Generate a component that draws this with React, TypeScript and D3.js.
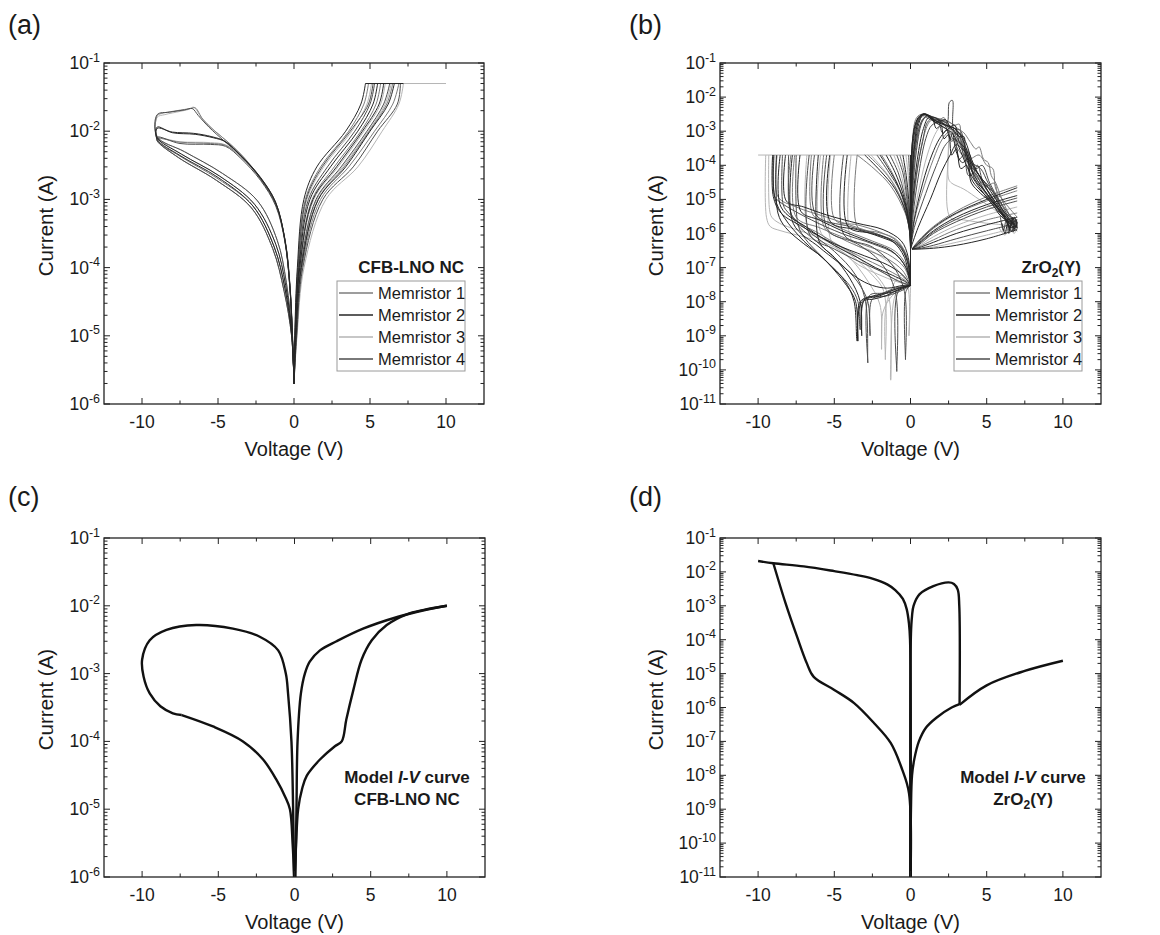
import React, { useEffect, useRef } from 'react';
import * as d3 from 'd3';

type Pt = [number, number];

const FONT = '"Liberation Sans", Arial, Helvetica, sans-serif';
const memColors = ['#7c7c7c', '#262626', '#b5b5b5', '#4d4d4d'];
const memLabels = ['Memristor 1', 'Memristor 2', 'Memristor 3', 'Memristor 4'];
const xTicks = [-10, -5, 0, 5, 10];
const xMinor = [-7.5, -2.5, 2.5, 7.5];
const yExpShort = [-1, -2, -3, -4, -5, -6];
const yExpLong = [-1, -2, -3, -4, -5, -6, -7, -8, -9, -10, -11];

// ---------- (a) CFB-LNO NC, measured ----------
const posA1: Pt[][] = [
  [[0, 2e-6], [0.06, 1e-5], [0.25, 1e-4], [0.75, 1e-3], [1.75, 3e-3], [3.6, 1e-2], [4.6, 2.5e-2], [4.9, 5e-2]],
  [[0, 2e-6], [0.1, 1e-5], [0.36, 1e-4], [1.2, 1e-3], [2.65, 3e-3], [4.4, 1e-2], [5.4, 2.5e-2], [5.7, 5e-2]],
  [[0, 2e-6], [0.16, 1e-5], [0.53, 1e-4], [1.75, 1e-3], [3.6, 3e-3], [5.3, 1e-2], [6.5, 2.5e-2], [6.9, 5e-2]],
  [[0, 2e-6], [0.15, 1e-5], [0.5, 1e-4], [1.6, 1e-3], [3.3, 3e-3], [4.95, 1e-2], [6.1, 2.5e-2], [6.5, 5e-2]],
];
const posA2: Pt[][] = [
  [[0, 2e-6], [0.05, 1e-5], [0.22, 1e-4], [0.65, 1e-3], [1.5, 3e-3], [3.4, 1e-2], [4.4, 2.5e-2], [4.7, 5e-2]],
  [[0, 2e-6], [0.09, 1e-5], [0.33, 1e-4], [1.05, 1e-3], [2.4, 3e-3], [4.2, 1e-2], [5.2, 2.5e-2], [5.5, 5e-2]],
  [[0, 2e-6], [0.14, 1e-5], [0.48, 1e-4], [1.6, 1e-3], [3.4, 3e-3], [5.0, 1e-2], [6.2, 2.5e-2], [6.6, 5e-2]],
  [[0, 2e-6], [0.1, 1e-5], [0.38, 1e-4], [1.25, 1e-3], [2.8, 3e-3], [4.5, 1e-2], [5.6, 2.5e-2], [5.9, 5e-2]],
];
const posA3: Pt[][] = [
  [[0, 2e-6], [0.07, 1e-5], [0.28, 1e-4], [0.85, 1e-3], [1.95, 3e-3], [3.8, 1e-2], [4.8, 2.5e-2], [5.1, 5e-2]],
  [[0, 2e-6], [0.11, 1e-5], [0.4, 1e-4], [1.3, 1e-3], [2.9, 3e-3], [4.6, 1e-2], [5.7, 2.5e-2], [6.0, 5e-2]],
  [[0, 2e-6], [0.2, 1e-5], [0.66, 1e-4], [2.1, 1e-3], [4.2, 3e-3], [5.8, 1e-2], [6.9, 2.5e-2], [7.2, 5e-2]],
  [[0, 2e-6], [0.13, 1e-5], [0.46, 1e-4], [1.5, 1e-3], [3.2, 3e-3], [4.9, 1e-2], [6.0, 2.5e-2], [6.4, 5e-2]],
];
const posA4: Pt[][] = [
  [[0, 2e-6], [0.08, 1e-5], [0.3, 1e-4], [0.95, 1e-3], [2.2, 3e-3], [4.0, 1e-2], [5.0, 2.5e-2], [5.3, 5e-2]],
  [[0, 2e-6], [0.12, 1e-5], [0.44, 1e-4], [1.45, 1e-3], [3.1, 3e-3], [4.8, 1e-2], [5.9, 2.5e-2], [6.3, 5e-2]],
  [[0, 2e-6], [0.18, 1e-5], [0.58, 1e-4], [1.9, 1e-3], [3.9, 3e-3], [5.5, 1e-2], [6.8, 2.5e-2], [7.0, 5e-2]],
  [[0, 2e-6], [0.07, 1e-5], [0.27, 1e-4], [0.8, 1e-3], [1.85, 3e-3], [3.7, 1e-2], [4.9, 2.5e-2], [5.2, 5e-2]],
];
const complianceA: Pt[][] = [[[4.7, 5e-2], [10, 5e-2]]];
const complianceA2: Pt[][] = [[[4.7, 5e-2], [7.2, 5e-2]]];

const negA1: Pt[][] = [
  [[0, 2e-6], [-0.15, 1e-5], [-0.6, 5e-5], [-1.3, 2e-4], [-2.7, 8e-4], [-5, 2e-3], [-7.5, 4.3e-3], [-9, 7.5e-3], [-9, 1.7e-2], [-8.8, 1.8e-2], [-7.7, 2e-2], [-6.8, 2.15e-2], [-6.5, 2.2e-2], [-6, 1.5e-2], [-5.2, 1e-2], [-4.2, 6.5e-3], [-3.2, 3.9e-3], [-2.1, 1.9e-3], [-1.15, 8e-4], [-0.55, 2.3e-4], [-0.25, 5e-5], [-0.06, 6e-6], [0, 2e-6]],
  [[0, 2e-6], [-0.16, 1e-5], [-0.65, 4.5e-5], [-1.4, 1.9e-4], [-2.8, 7.5e-4], [-5.1, 1.9e-3], [-7.6, 4.1e-3], [-9, 7.2e-3], [-9, 7.8e-3], [-7.5, 6.9e-3], [-5.5, 6.6e-3], [-4.5, 6.2e-3], [-3.5, 4.2e-3], [-2.2, 2e-3], [-1.2, 8.5e-4], [-0.6, 2.5e-4], [-0.28, 5.5e-5], [-0.07, 6e-6], [0, 2e-6]],
];
const negA2: Pt[][] = [
  [[0, 2e-6], [-0.13, 1e-5], [-0.55, 5.5e-5], [-1.2, 2.2e-4], [-2.6, 8.5e-4], [-4.9, 2.2e-3], [-7.4, 4.6e-3], [-9, 8e-3], [-9, 1.15e-2], [-8, 9.5e-3], [-6.5, 9e-3], [-5.3, 8e-3], [-4.5, 7e-3], [-3.5, 4.4e-3], [-2.2, 2.1e-3], [-1.2, 9e-4], [-0.6, 2.6e-4], [-0.27, 5.5e-5], [-0.07, 6e-6], [0, 2e-6]],
  [[0, 2e-6], [-0.15, 1e-5], [-0.6, 5e-5], [-1.3, 2e-4], [-2.7, 8e-4], [-5, 2.1e-3], [-7.5, 4.4e-3], [-9, 7.6e-3], [-9, 1.1e-2], [-8, 9.7e-3], [-6.6, 9.3e-3], [-5.4, 8.3e-3], [-4.6, 7.2e-3], [-3.6, 4.6e-3], [-2.3, 2.2e-3], [-1.25, 9.5e-4], [-0.62, 2.7e-4], [-0.28, 5.5e-5], [-0.07, 6e-6], [0, 2e-6]],
];
const negA3: Pt[][] = [
  [[0, 2e-6], [-0.12, 1e-5], [-0.5, 6e-5], [-1.1, 2.5e-4], [-2.4, 9.5e-4], [-4.7, 2.4e-3], [-7.2, 5e-3], [-9, 8.3e-3], [-9, 1.6e-2], [-8.5, 1.75e-2], [-7.5, 1.95e-2], [-6.9, 2.1e-2], [-6.6, 2.25e-2], [-6.1, 1.6e-2], [-5.3, 1.05e-2], [-4.3, 6.8e-3], [-3.3, 4.1e-3], [-2.2, 2e-3], [-1.2, 8.5e-4], [-0.58, 2.4e-4], [-0.26, 5e-5], [-0.06, 6e-6], [0, 2e-6]],
  [[0, 2e-6], [-0.13, 1e-5], [-0.55, 5.5e-5], [-1.2, 2.2e-4], [-2.6, 8.5e-4], [-4.9, 2.2e-3], [-7.4, 4.6e-3], [-9, 8e-3], [-7.5, 7e-3], [-5.5, 6.8e-3], [-4.5, 6.3e-3], [-3.5, 4.3e-3], [-2.2, 2e-3], [-1.2, 8.5e-4], [-0.6, 2.5e-4], [-0.27, 5e-5], [-0.07, 6e-6], [0, 2e-6]],
];
const negA4: Pt[][] = [
  [[0, 2e-6], [-0.16, 1e-5], [-0.65, 4.5e-5], [-1.4, 1.9e-4], [-2.8, 7.5e-4], [-5.1, 1.9e-3], [-7.6, 4.1e-3], [-9, 7.2e-3], [-9, 8.2e-3], [-7.5, 6.6e-3], [-5.5, 6.4e-3], [-4.5, 6e-3], [-3.5, 4e-3], [-2.2, 1.9e-3], [-1.2, 8e-4], [-0.6, 2.4e-4], [-0.27, 5e-5], [-0.07, 6e-6], [0, 2e-6]],
  [[0, 2e-6], [-0.12, 1e-5], [-0.5, 6e-5], [-1.1, 2.5e-4], [-2.4, 9.5e-4], [-4.7, 2.4e-3], [-7.2, 5e-3], [-9, 8.3e-3], [-9, 1.75e-2], [-8.2, 1.9e-2], [-7.2, 2.05e-2], [-6.7, 2.15e-2], [-6.3, 1.7e-2], [-5.6, 1.15e-2], [-4.6, 7.2e-3], [-3.4, 4.2e-3], [-2.2, 2e-3], [-1.2, 8.5e-4], [-0.58, 2.4e-4], [-0.26, 5e-5], [-0.06, 6e-6], [0, 2e-6]],
];

// ---------- (b) ZrO2(Y), measured ----------
const complianceB: Pt[][] = [[[-10, 2e-4], [0, 2e-4]], [[0, 2e-4], [0, 3e-8]]];

// negative sweeps 0 V -> set voltage, then jump to compliance
const negB1: Pt[][] = [
  [[0, 3e-8], [-0.2, 1.5e-7], [-0.8, 5e-7], [-2, 9e-7], [-3.5, 1.5e-6], [-5.5, 3e-6], [-7.5, 6e-6], [-8.7, 1.2e-5], [-8.75, 2e-4]],
  [[0, 3e-8], [-0.4, 1e-7], [-1.5, 2.5e-7], [-3, 4.5e-7], [-4.5, 8e-7], [-6, 1.5e-6], [-7.5, 3e-6], [-7.6, 2e-4]],
  [[0, 3e-8], [-0.3, 1.2e-7], [-1, 3e-7], [-2.5, 6e-7], [-4, 1.1e-6], [-5.5, 2.2e-6], [-6.4, 3.5e-6], [-6.5, 2e-4]],
  [[0, 3e-8], [-0.5, 8e-8], [-1.5, 1.8e-7], [-3, 3.5e-7], [-4.5, 7e-7], [-5.65, 1.5e-6], [-5.7, 2e-4]],
  [[0, 3e-8], [-0.25, 2e-7], [-0.9, 6e-7], [-2, 1.1e-6], [-3.5, 1.8e-6], [-4.95, 2.5e-6], [-5, 2e-4]],
  [[0, 3e-8], [-0.3, 2.5e-7], [-1, 7e-7], [-2.2, 1.1e-6], [-3.45, 1.5e-6], [-3.5, 2e-4]],
  [[0, 3e-8], [-0.6, 5e-8], [-1.8, 1e-7], [-3.2, 2e-7], [-4.5, 4e-7], [-6, 1e-6], [-7.8, 3.5e-6], [-7.85, 2e-4]],
];
const negB2: Pt[][] = [
  [[0, 3e-8], [-0.8, 2.5e-8], [-2, 1.5e-8], [-3.2, 1e-8], [-3.5, 7e-10], [-3.7, 1e-8], [-4.3, 4e-8], [-5.5, 1.5e-7], [-7, 6e-7], [-8.3, 3e-6], [-8.9, 1.1e-5], [-9, 2e-4]],
  [[0, 3e-8], [-0.15, 2e-7], [-0.6, 6e-7], [-1.8, 1.3e-6], [-3.5, 2e-6], [-5.5, 3.5e-6], [-7, 6e-6], [-8.15, 9e-6], [-8.2, 2e-4]],
  [[0, 3e-8], [-0.3, 1e-7], [-1.2, 3e-7], [-2.8, 6e-7], [-4.5, 1.2e-6], [-6, 2.5e-6], [-7.2, 4.5e-6], [-7.25, 2e-4]],
  [[0, 3e-8], [-0.6, 2.5e-8], [-1.6, 1.5e-8], [-2.4, 1.2e-8], [-3.1, 1e-8], [-3.2, 1e-9], [-3.3, 1e-8], [-4, 5e-8], [-5, 2e-7], [-6, 6e-7], [-6.05, 2e-4]],
  [[0, 3e-8], [-0.2, 1.5e-7], [-0.8, 4.5e-7], [-2, 8e-7], [-3.5, 1.3e-6], [-5.25, 2.2e-6], [-5.3, 2e-4]],
  [[0, 3e-8], [-0.4, 2e-7], [-1.2, 6e-7], [-2.5, 1e-6], [-4.1, 1.6e-6], [-4.15, 2e-4]],
  [[0, 3e-8], [-1, 2e-8], [-2.4, 1.5e-8], [-3.3, 1e-8], [-3.45, 7e-10], [-3.6, 1e-8], [-4.2, 3e-8], [-5.8, 2e-7], [-7, 5e-7], [-8.2, 1.5e-6], [-8.7, 4e-6], [-8.8, 2e-4]],
  [[0, 3e-8], [-0.5, 6e-8], [-1.5, 1.2e-7], [-3, 2.2e-7], [-5, 5e-7], [-7, 1.5e-6], [-8.5, 4e-6], [-9, 1.2e-5], [-9.05, 2e-4]],
  [[0, 3e-8], [-0.4, 4e-8], [-1.2, 6e-8], [-2.3, 1e-7], [-3.5, 2e-7], [-5, 4.5e-7], [-6.8, 1.5e-6], [-8.5, 6e-6], [-8.55, 2e-4]],
  [[0, 3e-8], [-0.5, 3e-8], [-1.5, 2.5e-8], [-2.5, 3e-8], [-3.5, 5e-8], [-4.8, 1.5e-7], [-6, 4e-7], [-7.7, 2e-6], [-7.75, 2e-4]],
];
const negB3: Pt[][] = [
  [[0, 3e-8], [-1, 4e-8], [-2, 6e-8], [-3.4, 1.2e-7], [-5, 4e-7], [-7, 8e-7], [-8.5, 1.2e-6], [-9.2, 1.6e-6], [-9.45, 3e-6], [-9.5, 2e-4]],
  [[0, 3e-8], [-1.2, 5e-8], [-2.2, 9e-8], [-3.5, 2e-7], [-5, 5e-7], [-7, 1.1e-6], [-8.6, 2e-6], [-9.1, 3e-6], [-9.25, 5e-6], [-9.3, 2e-4]],
  [[0, 3e-8], [-0.6, 6e-8], [-1.55, 1e-8], [-1.65, 2e-10], [-1.75, 2e-8], [-2.5, 6e-8], [-4, 2.5e-7], [-6, 8e-7], [-6.75, 1.5e-6], [-6.8, 2e-4]],
  [[0, 3e-8], [-0.9, 2e-8], [-1.3, 5e-11], [-1.45, 1.5e-8], [-2.5, 8e-8], [-4, 3e-7], [-5.85, 1e-6], [-5.9, 2e-4]],
  [[0, 3e-8], [-0.1, 1e-9], [-0.2, 3e-8], [-1, 1e-7], [-2.5, 3e-7], [-3.85, 6e-7], [-3.9, 2e-4]],
  [[0, 3e-8], [-0.5, 2.5e-8], [-1.2, 1.5e-8], [-1.8, 5e-9], [-1.9, 4e-10], [-2.0, 8e-9], [-2.8, 4e-8], [-4, 2e-7], [-5.2, 6e-7], [-5.25, 2e-4]],
];
const negB4: Pt[][] = [
  [[0, 3e-8], [-0.7, 2.5e-8], [-1.8, 1.8e-8], [-2.7, 1.5e-8], [-2.8, 1.6e-10], [-2.95, 1e-8], [-3.6, 6e-8], [-5, 3e-7], [-6.5, 1e-6], [-8, 4e-6], [-8.35, 7e-6], [-8.4, 2e-4]],
  [[0, 3e-8], [-1, 2.5e-8], [-2.2, 1.5e-8], [-3, 1.2e-8], [-3.3, 1.5e-9], [-3.45, 1e-8], [-4, 3e-8], [-5.5, 1.5e-7], [-7, 8e-7], [-7.4, 2e-6], [-7.5, 2e-4]],
  [[0, 3e-8], [-0.2, 1.8e-7], [-0.8, 5e-7], [-2, 9e-7], [-4, 1.6e-6], [-6.2, 3.5e-6], [-6.3, 2e-4]],
  [[0, 3e-8], [-0.8, 2e-8], [-0.9, 9e-11], [-1.0, 2e-8], [-2, 1.5e-7], [-3.5, 5e-7], [-5.45, 1.3e-6], [-5.5, 2e-4]],
  [[0, 3e-8], [-0.3, 2e-8], [-0.33, 2e-10], [-0.4, 2e-8], [-1.2, 1.2e-7], [-2.5, 4e-7], [-4.35, 9e-7], [-4.4, 2e-4]],
  [[0, 3e-8], [-0.5, 2.2e-8], [-1.5, 1.5e-8], [-2.5, 1.2e-8], [-2.65, 1e-9], [-2.8, 1e-8], [-3.5, 4e-8], [-4.5, 1.2e-7], [-6, 5e-7], [-7.5, 2e-6], [-7.9, 5e-6], [-8, 2e-4]],
  [[0, 3e-8], [-0.3, 1e-7], [-1, 2.5e-7], [-2.5, 5e-7], [-4.5, 1e-6], [-6.5, 2.5e-6], [-8.5, 8e-6], [-8.9, 1.2e-5], [-8.95, 2e-4]],
  [[0, 3e-8], [-0.8, 4e-8], [-2, 8e-8], [-3.5, 1.6e-7], [-5, 3.5e-7], [-6.6, 9e-7], [-6.65, 2e-4]],
];

// return sweeps from compliance back to 0 V
const fanB1: Pt[][] = [
  [[-3.5, 2e-4], [-2.4, 8e-5], [-1.3, 2.5e-5], [-0.35, 4e-6], [0, 1e-6]],
  [[-1.9, 2e-4], [-1.2, 6e-5], [-0.6, 1.5e-5], [-0.15, 3e-6], [0, 5e-7]],
  [[-0.7, 2e-4], [-0.4, 6e-5], [-0.18, 1e-5], [-0.05, 2e-6], [0, 3.5e-7]],
  [[-2.8, 2e-4], [-1.5, 5e-5], [-0.6, 1e-5], [-0.1, 1.5e-6], [0, 6e-7]],
];
const fanB2: Pt[][] = [
  [[-3.0, 2e-4], [-2, 7e-5], [-1, 2e-5], [-0.3, 4e-6], [0, 8e-7]],
  [[-1.6, 2e-4], [-1, 6e-5], [-0.5, 1.5e-5], [-0.12, 2.5e-6], [0, 5e-7]],
  [[-0.5, 2e-4], [-0.28, 5e-5], [-0.12, 1e-5], [-0.03, 2e-6], [0, 3.5e-7]],
  [[-2.0, 2e-4], [-0.9, 3e-5], [-0.3, 6e-6], [0, 8e-7]],
];
const fanB3: Pt[][] = [
  [[-2.6, 2e-4], [-1.7, 7e-5], [-0.9, 2e-5], [-0.25, 3.5e-6], [0, 7e-7]],
  [[-1.1, 2e-4], [-0.65, 6e-5], [-0.3, 1.2e-5], [-0.08, 2e-6], [0, 4e-7]],
  [[-0.3, 2e-4], [-0.15, 5e-5], [-0.06, 8e-6], [0, 3.5e-7]],
];
const fanB4: Pt[][] = [
  [[-2.2, 2e-4], [-1.4, 6e-5], [-0.7, 1.8e-5], [-0.2, 3e-6], [0, 6e-7]],
  [[-1.35, 2e-4], [-0.8, 6e-5], [-0.4, 1.4e-5], [-0.1, 2.5e-6], [0, 4e-7]],
  [[-0.9, 2e-4], [-0.5, 6e-5], [-0.25, 1.2e-5], [-0.06, 2e-6], [0, 4e-7]],
  [[-0.12, 2e-4], [-0.06, 4e-5], [-0.02, 5e-6], [0, 3.5e-7]],
];

// positive sweeps: set peak then noisy reset
const posB1: Pt[][] = [
  [[0, 3.5e-7], [0.05, 5e-6], [0.2, 1e-4], [0.5, 1e-3], [0.9, 2.5e-3], [1.3, 2.2e-3], [1.9, 1.5e-3], [2.5, 1e-3], [3.1, 3e-4], [3.6, 1.5e-4], [4.3, 4e-5], [5.2, 1e-5], [6.2, 3e-6], [6.5, 1.4e-6], [6.8, 2.8e-6], [7, 1.5e-6]],
  [[0, 3.5e-7], [0.12, 4e-6], [0.5, 1e-4], [0.9, 8e-4], [1.3, 2e-3], [1.8, 2.3e-3], [2.4, 2e-3], [2.9, 1.5e-3], [3.2, 1.6e-3], [3.35, 3e-4], [3.8, 1.5e-4], [4.5, 2e-4], [5, 1e-4], [5.4, 8e-5], [5.6, 2e-5], [6.2, 8e-6], [7, 3e-6]],
  [[0, 3.5e-7], [0.04, 2e-5], [0.2, 4e-4], [0.55, 2e-3], [0.95, 3.1e-3], [1.4, 2.4e-3], [1.9, 2.2e-3], [2.2, 2.5e-3], [2.5, 1.2e-3], [3, 1e-3], [3.4, 4e-4], [3.7, 3e-4], [4, 8e-5], [4.8, 2.5e-5], [5.6, 8e-6], [6.4, 3e-6], [7, 2e-6]],
  [[0, 3.5e-7], [0.3, 3e-6], [0.9, 2.5e-5], [1.5, 1.5e-4], [2.1, 6e-4], [2.6, 1e-3], [3, 8e-4], [3.3, 8.5e-4], [3.5, 3e-4], [3.9, 2e-4], [4.3, 5e-5], [5, 2.5e-5], [5.5, 3e-5], [5.8, 8e-6], [6.4, 3e-6], [7, 1.6e-6]],
  [[0, 3.5e-7], [0.03, 2e-5], [0.12, 5e-4], [0.4, 2.5e-3], [0.8, 3.2e-3], [1.3, 2.8e-3], [2, 2.2e-3], [2.6, 1.8e-3], [3.1, 1.2e-3], [3.5, 9e-4], [3.9, 5e-4], [4.3, 3e-4], [4.5, 3.5e-4], [4.8, 1.5e-4], [5.1, 1.2e-4], [5.3, 5e-5], [5.6, 3e-5], [6, 1e-5], [6.6, 3e-6], [7, 2e-6]],
];
const posB2: Pt[][] = [
  [[0, 3.5e-7], [0.02, 1e-5], [0.08, 2e-4], [0.3, 1.5e-3], [0.7, 3e-3], [1.0, 3e-3], [1.5, 2e-3], [2.2, 1.3e-3], [2.8, 8e-4], [3.3, 2.5e-4], [3.9, 6e-5], [4.6, 2e-5], [5.5, 6e-6], [6.3, 2.5e-6], [6.6, 1.2e-6], [7, 1.8e-6]],
  [[0, 3.5e-7], [0.03, 3e-5], [0.15, 6e-4], [0.5, 2.5e-3], [0.9, 3.2e-3], [1.3, 2.5e-3], [1.8, 1.8e-3], [2.3, 1.5e-3], [2.9, 1.2e-3], [3.4, 6e-4], [3.8, 2e-4], [4.2, 8e-5], [4.9, 3e-5], [5.6, 1e-5], [6.2, 4e-6], [6.7, 2e-6], [7, 1.5e-6]],
  [[0, 3.5e-7], [0.2, 2e-6], [0.8, 3e-5], [1.4, 2e-4], [1.9, 6e-4], [2.3, 1e-3], [2.7, 1.3e-3], [3.1, 1e-3], [3.6, 5e-4], [4, 1.5e-4], [4.5, 5e-5], [5, 2e-5], [5.8, 5e-6], [6.5, 2e-6], [7, 1.2e-6]],
  [[0, 3.5e-7], [0.1, 5e-6], [0.45, 1.5e-4], [0.85, 1.2e-3], [1.2, 2.5e-3], [1.7, 2e-3], [2.2, 1.6e-3], [2.8, 1.1e-3], [3.2, 7e-4], [3.5, 7e-4], [3.6, 2e-4], [4.2, 5e-5], [5, 1.5e-5], [6, 4e-6], [6.6, 1.5e-6], [7, 1.8e-6]],
  [[0, 3.5e-7], [0.06, 1e-5], [0.25, 3e-4], [0.6, 2e-3], [0.85, 3.3e-3], [1.2, 2.8e-3], [1.6, 2.5e-3], [2, 2e-3], [2.3, 2.2e-3], [2.6, 1.4e-3], [2.9, 1.5e-3], [3.2, 5e-4], [3.6, 3e-4], [3.9, 1e-4], [4.4, 6e-5], [5, 2e-5], [5.7, 7e-6], [6.2, 3e-6], [6.5, 1.5e-6], [6.8, 3e-6], [7, 2e-6]],
  [[0, 3.5e-7], [0.5, 1.5e-6], [1.3, 1e-5], [2, 6e-5], [2.6, 2e-4], [3, 4e-4], [3.4, 3e-4], [3.7, 2e-4], [4, 4e-5], [4.5, 2e-5], [5.2, 1e-5], [6, 4e-6], [7, 1.5e-6]],
  [[0, 3.5e-7], [0.04, 1.5e-5], [0.2, 6e-4], [0.6, 2.6e-3], [1, 3e-3], [1.4, 2.6e-3], [1.7, 1.2e-3], [2, 1.5e-3], [2.2, 6e-4], [2.5, 8e-4], [2.7, 2e-4], [3, 3e-4], [3.3, 8e-5], [3.7, 1e-4], [4, 3e-5], [4.6, 1.5e-5], [5.3, 8e-6], [6, 3e-6], [7, 1.8e-6]],
  [[0, 3.5e-7], [0.05, 1e-5], [0.25, 4e-4], [0.6, 2.4e-3], [0.95, 3.2e-3], [1.3, 2.7e-3], [1.6, 1.8e-3], [1.9, 2e-3], [2.3, 1.4e-3], [2.6, 6e-4], [2.75, 9e-4], [3, 2.5e-4], [3.4, 1.2e-4], [3.8, 1.5e-4], [4.2, 4e-5], [5, 1.5e-5], [5.8, 5e-6], [6.5, 2e-6], [7, 2.5e-6]],
  [[6, 2e-6], [6.2, 1e-6], [6.4, 2.5e-6], [6.5, 1.2e-6], [6.7, 3e-6], [6.8, 1.3e-6], [7, 2.2e-6]],
];
const posB3: Pt[][] = [
  [[0, 3.5e-7], [0.15, 2e-6], [0.6, 2.5e-5], [1.1, 2e-4], [1.6, 8e-4], [2, 1.5e-3], [2.3, 2e-3], [2.5, 1e-3], [2.6, 3e-6], [3.5, 2.5e-6], [5, 2e-6], [6, 1.8e-6], [7, 1.5e-6]],
  [[0, 3.5e-7], [0.05, 1.5e-5], [0.25, 5e-4], [0.6, 2.3e-3], [1, 2.8e-3], [1.5, 2.4e-3], [2, 1.6e-3], [2.6, 1.2e-3], [3, 6e-4], [3.6, 2e-4], [4.3, 6e-5], [5, 2e-5], [5.8, 6e-6], [6.5, 2.5e-6], [7, 2e-6]],
  [[0, 3.5e-7], [0.1, 6e-6], [0.4, 3e-4], [0.8, 2.2e-3], [1.2, 2.6e-3], [1.8, 2e-3], [2.3, 1.7e-3], [2.45, 1.8e-3], [2.5, 4e-5], [2.7, 3e-5], [3.5, 2e-5], [4.5, 1e-5], [5.5, 5e-6], [6.5, 2e-6], [7, 1.8e-6]],
  [[5.8, 1.5e-6], [6.2, 9e-7], [6.5, 1.6e-6], [6.8, 1e-6], [7, 1.5e-6]],
];
const posB4: Pt[][] = [
  [[0, 3.5e-7], [0.1, 3e-6], [0.4, 6e-5], [0.8, 5e-4], [1.1, 1.8e-3], [1.5, 2.5e-3], [2.1, 2e-3], [2.4, 1.8e-3], [2.55, 7e-3], [2.75, 8e-3], [2.8, 1.2e-3], [3.3, 4e-4], [3.9, 1.5e-4], [4.5, 5e-5], [5.3, 2e-5], [6, 5e-6], [6.6, 3e-6], [7, 2.5e-6]],
  [[0, 3.5e-7], [0.08, 8e-6], [0.3, 2.5e-4], [0.7, 1.8e-3], [1.1, 2.8e-3], [1.6, 2.2e-3], [2.3, 1.8e-3], [2.9, 9e-4], [3.3, 6e-4], [3.5, 2e-4], [3.8, 2.5e-4], [4.1, 6e-5], [4.4, 1e-4], [4.8, 3e-5], [5.5, 1.5e-5], [6.3, 3e-6], [7, 2e-6]],
  [[0, 3.5e-7], [0.25, 1.5e-6], [1, 1.5e-5], [1.7, 1e-4], [2.3, 4e-4], [2.8, 6e-4], [3.3, 4e-4], [3.8, 1.5e-4], [4.3, 8e-5], [4.7, 1e-4], [5.2, 3e-5], [5.8, 1e-5], [6.4, 4e-6], [7, 2e-6]],
  [[0, 3.5e-7], [0.15, 3e-6], [0.55, 6e-5], [1, 6e-4], [1.4, 1.5e-3], [1.9, 1.8e-3], [2.4, 1.5e-3], [2.9, 1.2e-3], [3.3, 1e-3], [3.6, 2.5e-4], [4, 1.2e-4], [4.6, 8e-5], [5.1, 3e-5], [5.9, 8e-6], [6.5, 3e-6], [7, 2.2e-6]],
  [[0, 3.5e-7], [0.08, 6e-6], [0.35, 2e-4], [0.75, 1.8e-3], [1.1, 2.9e-3], [1.5, 2e-3], [1.8, 2.2e-3], [2.1, 9e-4], [2.4, 1.1e-3], [2.7, 5e-4], [2.9, 6e-4], [3.2, 1.5e-4], [3.5, 2e-4], [3.8, 5e-5], [4.2, 6e-5], [4.8, 2e-5], [5.5, 7e-6], [6.3, 2.5e-6], [7, 1.5e-6]],
  [[5.9, 3e-6], [6.1, 1.2e-6], [6.3, 2.8e-6], [6.45, 1e-6], [6.6, 2.4e-6], [6.75, 1.1e-6], [6.9, 2.6e-6], [7, 1.4e-6]],
];
// return sweeps 7 V -> 0 V
const retB1: Pt[][] = [
  [[7, 2.5e-5], [5, 1.2e-5], [3, 4.5e-6], [1.5, 1.6e-6], [0.5, 6e-7], [0.1, 3.5e-7]],
  [[7, 4e-6], [5, 2.5e-6], [3, 1.3e-6], [1.5, 6.5e-7], [0.5, 4e-7], [0.1, 3.5e-7]],
  [[7, 1.8e-5], [5, 9e-6], [3, 3.8e-6], [1.5, 1.4e-6], [0.5, 5.5e-7], [0.1, 3.5e-7]],
];
const retB2: Pt[][] = [
  [[7, 1.3e-5], [5, 7e-6], [3, 3e-6], [1.5, 1.2e-6], [0.5, 5e-7], [0.1, 3.5e-7]],
  [[7, 3e-6], [5, 1.8e-6], [3, 1e-6], [1.5, 5.5e-7], [0.5, 3.8e-7], [0.1, 3.5e-7]],
  [[7, 1.3e-6], [5, 7e-7], [3, 4.5e-7], [1.5, 3.7e-7], [0.5, 3.5e-7], [0.1, 3.5e-7]],
  [[7, 2.2e-5], [5, 1e-5], [3, 4e-6], [1.5, 1.5e-6], [0.5, 5.5e-7], [0.1, 3.5e-7]],
];
const retB3: Pt[][] = [
  [[7, 6e-6], [5, 3.5e-6], [3, 1.7e-6], [1.5, 8e-7], [0.5, 4.2e-7], [0.1, 3.5e-7]],
  [[7, 1.5e-6], [5, 9e-7], [3, 5.5e-7], [1.5, 4e-7], [0.5, 3.5e-7], [0.1, 3.5e-7]],
];
const retB4: Pt[][] = [
  [[7, 9e-6], [5, 5e-6], [3, 2.2e-6], [1.5, 1e-6], [0.5, 4.5e-7], [0.1, 3.5e-7]],
  [[7, 2e-6], [5, 1.2e-6], [3, 7e-7], [1.5, 4.5e-7], [0.5, 3.6e-7], [0.1, 3.5e-7]],
  [[7, 1.1e-5], [5, 6e-6], [3, 2.6e-6], [1.5, 1.1e-6], [0.5, 4.8e-7], [0.1, 3.5e-7]],
];

// ---------- (c) model CFB-LNO NC ----------
const modelC: Pt[][] = [
  [[0, 1e-6], [0.1, 3e-6], [0.24, 1e-5], [0.5, 2e-5], [0.8, 3.1e-5], [1.67, 5.4e-5], [2.65, 8.5e-5], [3.1, 1e-4], [3.4, 2.1e-4], [3.86, 5.7e-4], [4.4, 1.6e-3], [5.07, 3.1e-3], [6.05, 5.2e-3], [7.37, 7.5e-3], [8.5, 8.7e-3], [10, 1e-2]],
  [[10, 1e-2], [8.5, 8.6e-3], [6.8, 6.9e-3], [4.5, 4.6e-3], [2.76, 3e-3], [1.67, 2.2e-3], [1.0, 1.5e-3], [0.68, 1e-3], [0.42, 5.1e-4], [0.2, 1e-4], [0.13, 1e-5], [0.06, 1e-6]],
  [[-0.03, 1e-6], [-0.09, 1e-5], [-0.2, 1e-4], [-0.42, 5e-4], [-0.57, 1e-3], [-1.07, 2.2e-3], [-2.28, 3.5e-3], [-4.04, 4.6e-3], [-6.45, 5.2e-3], [-8.4, 4.4e-3], [-9.5, 3.1e-3], [-10, 1.6e-3], [-9.9, 9e-4], [-9.5, 5.1e-4], [-8.8, 3.3e-4], [-7.98, 2.6e-4], [-7.4, 2.45e-4]],
  [[-7.4, 2.45e-4], [-5.35, 1.66e-4], [-3.38, 1e-4], [-2.06, 5.4e-5], [-1.18, 2.7e-5], [-0.6, 1.5e-5], [-0.3, 1e-5], [-0.12, 3e-6], [-0.02, 1e-6]],
];

// ---------- (d) model ZrO2(Y) ----------
const modelD: Pt[][] = [
  [[-10, 2.1e-2], [-9, 1.8e-2], [-7, 1.45e-2], [-5, 1.05e-2], [-3.5, 8e-3], [-2.5, 6.3e-3], [-1.5, 4.2e-3], [-1, 2.9e-3], [-0.5, 1.6e-3], [-0.25, 8e-4], [-0.1, 3e-4], [-0.03, 1e-4], [0, 1e-11]],
  [[0, 1e-11], [0.03, 1.5e-4], [0.1, 5e-4], [0.2, 1e-3], [0.6, 2.2e-3], [1.5, 3.8e-3], [2.5, 4.9e-3], [2.85, 4.4e-3], [3.1, 3e-3], [3.2, 1e-3], [3.22, 1.2e-6]],
  [[3.22, 1.2e-6], [5, 4.5e-6], [7.5, 1.2e-5], [10, 2.4e-5]],
  [[-9, 1.8e-2], [-8.2, 1.2e-3], [-7.45, 1.25e-4], [-6.8, 2e-5], [-6.35, 8e-6], [-5, 3.3e-6], [-3.7, 1.35e-6], [-2.4, 3.5e-7], [-1.3, 9e-8], [-0.55, 1.5e-8], [-0.1, 3e-9], [0, 1e-11]],
  [[0, 1e-11], [0.03, 1e-9], [0.1, 1e-8], [0.25, 3e-8], [0.55, 1e-7], [1, 2.5e-7], [1.7, 5e-7], [2.7, 1e-6], [3.22, 1.25e-6]],
];

type Series = { color: string; width: number; curves: Pt[][] };
type Panel = {
  id: string; label: string; left: number; right: number; top: number; bottom: number;
  exps: number[]; series: Series[]; legendTitle?: 'cfb' | 'zro'; note?: 'cfb' | 'zro';
  labelX: number; labelY: number; titleX: number;
};

const panels: Panel[] = [
  {
    id: 'a', label: '(a)', left: 104, right: 484, top: 63, bottom: 404, exps: yExpShort, labelX: 8, labelY: 34, titleX: 53,
    legendTitle: 'cfb',
    series: [
      { color: memColors[2], width: 1, curves: [...posA3, ...negA3, ...complianceA] },
      { color: memColors[0], width: 1, curves: [...posA1, ...negA1] },
      { color: memColors[3], width: 1, curves: [...posA4, ...negA4] },
      { color: memColors[1], width: 1, curves: [...posA2, ...negA2, ...complianceA2] },
    ],
  },
  {
    id: 'b', label: '(b)', left: 720, right: 1101, top: 63, bottom: 404, exps: yExpLong, labelX: 629, labelY: 34, titleX: 663,
    legendTitle: 'zro',
    series: [
      { color: memColors[2], width: 1, curves: [...complianceB.slice(0, 1), ...negB3, ...fanB3, ...posB3, ...retB3] },
      { color: memColors[0], width: 1, curves: [...negB1, ...fanB1, ...posB1, ...retB1] },
      { color: memColors[3], width: 1, curves: [...negB4, ...fanB4, ...posB4, ...retB4] },
      { color: memColors[1], width: 1, curves: [...complianceB.slice(1), ...negB2, ...fanB2, ...posB2, ...retB2] },
    ],
  },
  {
    id: 'c', label: '(c)', left: 104, right: 485, top: 538, bottom: 877, exps: yExpShort, labelX: 8, labelY: 506, titleX: 53,
    note: 'cfb',
    series: [{ color: '#111', width: 2.4, curves: modelC }],
  },
  {
    id: 'd', label: '(d)', left: 720, right: 1101, top: 538, bottom: 877, exps: yExpLong, labelX: 629, labelY: 506, titleX: 663,
    note: 'zro',
    series: [{ color: '#111', width: 2.4, curves: modelD }],
  },
];

function drawPanel(svg: d3.Selection<SVGSVGElement, unknown, null, undefined>, p: Panel) {
  const x = d3.scaleLinear().domain([-12.5, 12.5]).range([p.left, p.right]);
  const lo = p.exps[p.exps.length - 1];
  const hi = p.exps[0];
  const y = d3.scaleLog().domain([+`1e${lo}`, +`1e${hi}`]).range([p.bottom, p.top]);
  const g = svg.append('g').attr('font-family', FONT).attr('fill', '#1a1a1a');

  const clipId = `clip-${p.id}`;
  svg.append('defs').append('clipPath').attr('id', clipId)
    .append('rect').attr('x', p.left).attr('y', p.top - 1).attr('width', p.right - p.left).attr('height', p.bottom - p.top + 2);

  const line = d3.line<Pt>().x(d => x(d[0])).y(d => y(d[1])).curve(d3.curveCatmullRom.alpha(0.5));
  const plot = g.append('g').attr('clip-path', `url(#${clipId})`);
  p.series.forEach(s => {
    plot.selectAll(null).data(s.curves).join('path')
      .attr('d', d => line(d))
      .attr('fill', 'none')
      .attr('stroke', s.color)
      .attr('stroke-width', s.width)
      .attr('stroke-linejoin', 'round');
  });

  // frame
  g.append('rect').attr('x', p.left).attr('y', p.top).attr('width', p.right - p.left).attr('height', p.bottom - p.top)
    .attr('fill', 'none').attr('stroke', '#222').attr('stroke-width', 1.3);

  const ticks = g.append('g').attr('stroke', '#222').attr('stroke-width', 1);
  const major = 6;
  const minor = 3.5;
  xTicks.forEach(v => {
    ticks.append('line').attr('x1', x(v)).attr('x2', x(v)).attr('y1', p.bottom).attr('y2', p.bottom - major);
    ticks.append('line').attr('x1', x(v)).attr('x2', x(v)).attr('y1', p.top).attr('y2', p.top + major);
  });
  xMinor.forEach(v => {
    ticks.append('line').attr('x1', x(v)).attr('x2', x(v)).attr('y1', p.bottom).attr('y2', p.bottom - minor);
    ticks.append('line').attr('x1', x(v)).attr('x2', x(v)).attr('y1', p.top).attr('y2', p.top + minor);
  });
  p.exps.forEach(e => {
    const v = +`1e${e}`;
    ticks.append('line').attr('x1', p.left).attr('x2', p.left + major).attr('y1', y(v)).attr('y2', y(v));
    ticks.append('line').attr('x1', p.right).attr('x2', p.right - major).attr('y1', y(v)).attr('y2', y(v));
    if (e > lo) {
      for (let k = 2; k <= 9; k++) {
        const mv = k * +`1e${e - 1}`;
        ticks.append('line').attr('x1', p.left).attr('x2', p.left + minor).attr('y1', y(mv)).attr('y2', y(mv));
        ticks.append('line').attr('x1', p.right).attr('x2', p.right - minor).attr('y1', y(mv)).attr('y2', y(mv));
      }
    }
  });

  // tick labels
  xTicks.forEach(v => {
    g.append('text').attr('x', x(v)).attr('y', p.bottom + 24).attr('text-anchor', 'middle')
      .attr('font-size', 17.5).text(String(v));
  });
  p.exps.forEach(e => {
    const t = g.append('text').attr('x', p.left - 4).attr('y', y(+`1e${e}`) + 6)
      .attr('text-anchor', 'end').attr('font-size', 17.5);
    t.append('tspan').text('10');
    t.append('tspan').attr('dy', -7.5).attr('font-size', 12.5).text(String(e));
  });

  // axis titles
  g.append('text').attr('x', (p.left + p.right) / 2).attr('y', p.bottom + 52).attr('text-anchor', 'middle')
    .attr('font-size', 20).text('Voltage (V)');
  g.append('text').attr('transform', `translate(${p.titleX},${(p.top + p.bottom) / 2 - 8}) rotate(-90)`)
    .attr('text-anchor', 'middle').attr('font-size', 20.5).text('Current (A)');

  // panel letter
  g.append('text').attr('x', p.labelX).attr('y', p.labelY).attr('font-size', 27).text(p.label);

  // legend
  if (p.legendTitle) {
    const lx = p.right - 147;
    const ly = p.top + 218;
    const tt = g.append('text').attr('x', lx + 127).attr('y', ly - 8).attr('text-anchor', 'end')
      .attr('font-size', 17).attr('font-weight', 'bold');
    if (p.legendTitle === 'cfb') tt.text('CFB-LNO NC');
    else {
      tt.append('tspan').text('ZrO');
      tt.append('tspan').attr('dy', 4).attr('font-size', 12).text('2');
      tt.append('tspan').attr('dy', -4).text('(Y)');
    }
    g.append('rect').attr('x', lx).attr('y', ly).attr('width', 128).attr('height', 90)
      .attr('fill', '#fff').attr('stroke', '#9a9a9a').attr('stroke-width', 1);
    memLabels.forEach((lab, i) => {
      const cy = ly + 12 + i * 22;
      g.append('line').attr('x1', lx + 2).attr('x2', lx + 36).attr('y1', cy).attr('y2', cy)
        .attr('stroke', memColors[i]).attr('stroke-width', 1.3);
      g.append('text').attr('x', lx + 41).attr('y', cy + 6).attr('font-size', 16.5).text(lab);
    });
  }

  // model annotation (block near the lower right of the frame)
  if (p.note) {
    const cx = p.right - 78;
    const t1 = g.append('text').attr('x', cx).attr('y', p.bottom - 94).attr('text-anchor', 'middle')
      .attr('font-size', 17).attr('font-weight', 'bold');
    t1.append('tspan').text('Model ');
    t1.append('tspan').attr('font-style', 'italic').text('I-V');
    t1.append('tspan').text(' curve');
    const t2 = g.append('text').attr('x', cx).attr('y', p.bottom - 72).attr('text-anchor', 'middle')
      .attr('font-size', 17).attr('font-weight', 'bold');
    if (p.note === 'cfb') t2.text('CFB-LNO NC');
    else {
      t2.append('tspan').text('ZrO');
      t2.append('tspan').attr('dy', 4).attr('font-size', 12).text('2');
      t2.append('tspan').attr('dy', -4).text('(Y)');
    }
  }
}

const App = () => {
  const ref = useRef<SVGSVGElement>(null);

  useEffect(() => {
    if (!ref.current) return;
    const svg = d3.select(ref.current);
    svg.selectAll('*').remove();
    panels.forEach(p => drawPanel(svg, p));
  }, []);

  return (
    <svg ref={ref} width={1160} height={935} viewBox="0 0 1160 935"
      style={{ position: 'absolute', left: 0, top: 0, background: '#fff' }} />
  );
};

export default App;
